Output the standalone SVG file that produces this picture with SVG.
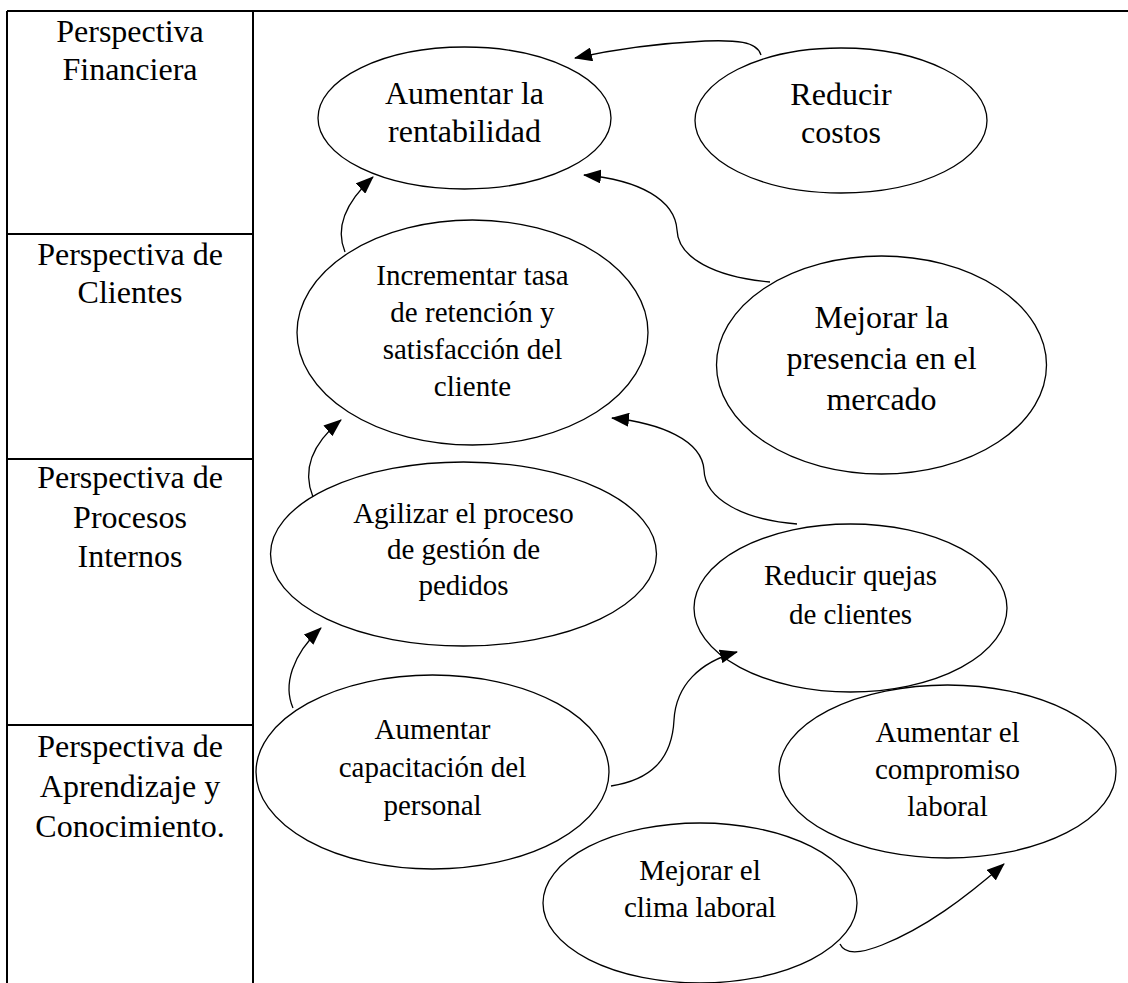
<svg xmlns="http://www.w3.org/2000/svg" width="1128" height="983" viewBox="0 0 1128 983">
<style>
.t{font-family:"Liberation Serif","Times New Roman",serif;fill:#000;text-anchor:middle}
.l{font-size:32px}
.s{font-size:29px}
.n{fill:#fff;stroke:#000;stroke-width:1.3}
.c{fill:none;stroke:#000;stroke-width:1.3}
.g{stroke:#000;stroke-width:2;fill:none}
</style>
<defs>
<marker id="ah" markerUnits="userSpaceOnUse" markerWidth="18" markerHeight="14" refX="17" refY="7" orient="auto">
<path d="M0,0 L18,7 L0,14 z" fill="#000"/>
</marker>
</defs>
<rect width="1128" height="983" fill="#fff"/>
<g id="table">
<line class="g" x1="7" y1="11" x2="1128" y2="11"/>
<line class="g" x1="7" y1="11" x2="7" y2="983"/>
<line class="g" x1="253" y1="11" x2="253" y2="983"/>
<line class="g" x1="7" y1="234" x2="253" y2="234"/>
<line class="g" x1="7" y1="459" x2="253" y2="459"/>
<line class="g" x1="7" y1="725" x2="253" y2="725"/>
<text class="t l" x="130" y="42">Perspectiva</text>
<text class="t l" x="130" y="80">Financiera</text>
<text class="t l" x="130" y="265">Perspectiva de</text>
<text class="t l" x="130" y="303">Clientes</text>
<text class="t l" x="130" y="488">Perspectiva de</text>
<text class="t l" x="130" y="528">Procesos</text>
<text class="t l" x="130" y="567">Internos</text>
<text class="t l" x="130" y="757">Perspectiva de</text>
<text class="t l" x="130" y="797">Aprendizaje y</text>
<text class="t l" x="130" y="837">Conocimiento.</text>
</g>
<g id="n-rentabilidad">
<ellipse class="n" cx="464.5" cy="118" rx="146.5" ry="71"/>
<text class="t l" x="464.5" y="104">Aumentar la</text>
<text class="t l" x="464.5" y="142">rentabilidad</text>
</g>
<g id="n-costos">
<ellipse class="n" cx="841" cy="120.5" rx="146" ry="72.5"/>
<text class="t l" x="841" y="105">Reducir</text>
<text class="t l" x="841" y="143">costos</text>
</g>
<g id="n-retencion">
<ellipse class="n" cx="472.5" cy="332.5" rx="175.5" ry="112.5"/>
<text class="t s" x="472.5" y="285">Incrementar tasa</text>
<text class="t s" x="472.5" y="322">de retención y</text>
<text class="t s" x="472.5" y="359">satisfacción del</text>
<text class="t s" x="472.5" y="396">cliente</text>
</g>
<g id="n-mercado">
<ellipse class="n" cx="881.5" cy="365" rx="165" ry="109"/>
<text class="t l" x="881.5" y="328">Mejorar la</text>
<text class="t l" x="881.5" y="369">presencia en el</text>
<text class="t l" x="881.5" y="410">mercado</text>
</g>
<g id="n-pedidos">
<ellipse class="n" cx="463.5" cy="554" rx="193" ry="92"/>
<text class="t s" x="463.5" y="523">Agilizar el proceso</text>
<text class="t s" x="463.5" y="559">de gestión de</text>
<text class="t s" x="463.5" y="595">pedidos</text>
</g>
<g id="n-quejas">
<ellipse class="n" cx="850.5" cy="608" rx="156.5" ry="84"/>
<text class="t s" x="850.5" y="585">Reducir quejas</text>
<text class="t s" x="850.5" y="624">de clientes</text>
</g>
<g id="n-capacitacion">
<ellipse class="n" cx="432.5" cy="772" rx="176.5" ry="97"/>
<text class="t s" x="432.5" y="739">Aumentar</text>
<text class="t s" x="432.5" y="777">capacitación del</text>
<text class="t s" x="432.5" y="815">personal</text>
</g>
<g id="n-compromiso">
<ellipse class="n" cx="947.5" cy="771.5" rx="168.5" ry="86.5"/>
<text class="t s" x="947.5" y="742">Aumentar el</text>
<text class="t s" x="947.5" y="779">compromiso</text>
<text class="t s" x="947.5" y="816">laboral</text>
</g>
<g id="n-clima">
<ellipse class="n" cx="700" cy="903" rx="157" ry="80"/>
<text class="t s" x="700" y="880">Mejorar el</text>
<text class="t s" x="700" y="917">clima laboral</text>
</g>
<g id="connectors">
<path class="c" marker-end="url(#ah)" d="M761 55 C757 41 735 40 705 41 C665 43 620 48 575 58"/>
<path class="c" marker-end="url(#ah)" d="M770 282 C715 277 678 258 677 230 C675 200 640 180 584 175"/>
<path class="c" marker-end="url(#ah)" d="M345 252 C335 228 345 203 373 177"/>
<path class="c" marker-end="url(#ah)" d="M313 497 C302 470 312 444 341 420"/>
<path class="c" marker-end="url(#ah)" d="M797 524 C745 520 705 500 704 470 C702 440 660 423 612 418"/>
<path class="c" marker-end="url(#ah)" d="M293 708 C283 685 292 655 321 628"/>
<path class="c" marker-end="url(#ah)" d="M611 786 C650 780 672 760 674 720 C676 685 700 662 737 652"/>
<path class="c" marker-end="url(#ah)" d="M840 944 C845 955 862 953 882 945 C925 928 965 898 1004 864"/>
</g>
</svg>
